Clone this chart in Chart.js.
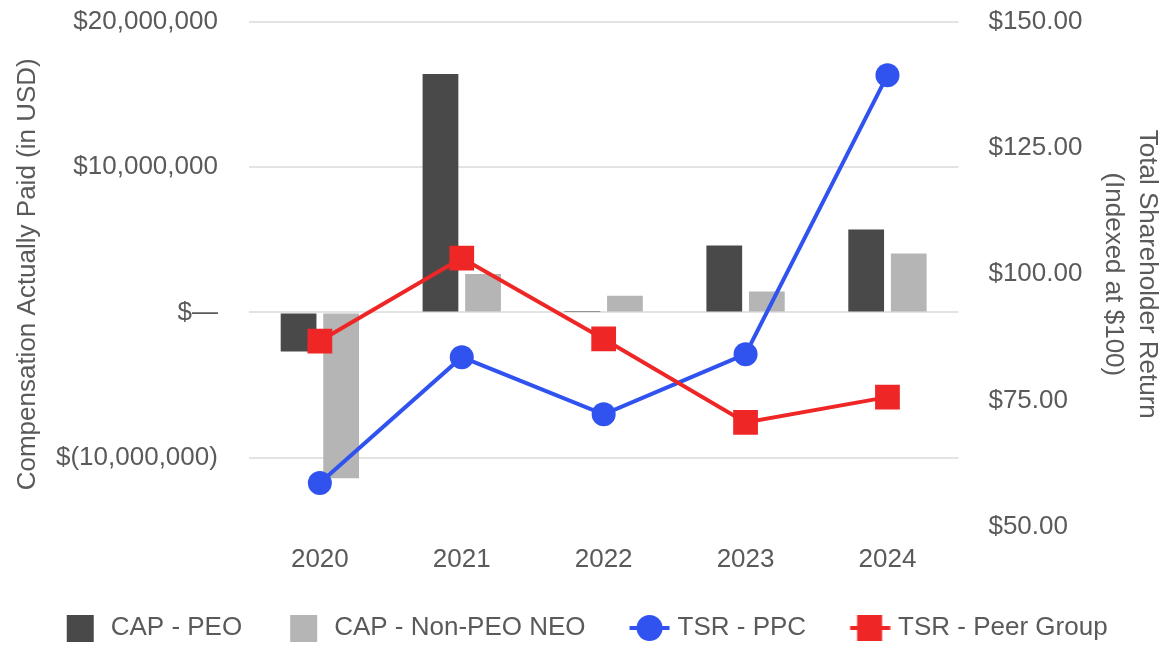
<!DOCTYPE html>
<html>
<head>
<meta charset="utf-8">
<script src="https://cdn.jsdelivr.net/npm/chart.js@4.4.1/dist/chart.umd.min.js"></script>
<style>
  html, body { margin: 0; padding: 0; background: #fff; }
  #wrap { width: 1165px; height: 648px; }
</style>
</head>
<body>
<div id="wrap"><canvas id="capChart"></canvas></div>
<script>
/* ---------- data ---------- */
var years = ['2020', '2021', '2022', '2023', '2024'];
var capPeo = [ -2680000, 16400000, 110000, 4600000, 5700000 ];
var capNonPeo = [ -11400000, 2650000, 1150000, 1450000, 4050000 ];
var tsrPpc = [ 58.7, 83.6, 72.3, 84.2, 139.4 ];
var tsrPeer = [ 86.8, 103.2, 87.2, 70.7, 75.7 ];
var capTicks = [ -10000000, 0, 10000000, 20000000 ];
var tsrTicks = [ 50, 75, 100, 125, 150 ];
var legendNames = [ 'CAP - PEO', 'CAP - Non-PEO NEO', 'TSR - PPC', 'TSR - Peer Group' ];

/* ---------- colours ---------- */
var darkGrey = '#494949';
var lightGrey = '#b5b5b5';
var blue = '#3053f0';
var red = '#ee2626';
var textGrey = '#5a5a5a';

Chart.defaults.font.family = '"Liberation Sans", Arial, sans-serif';
Chart.defaults.font.size = 26;
Chart.defaults.color = textGrey;

/* legend swatches (drawn as point style images, centred in a 57px box) */
function squareIcon(color) {
	var c = document.createElement('canvas');
	c.width = 57; c.height = 27;
	var g = c.getContext('2d');
	g.fillStyle = color;
	g.fillRect(26, 0, 27, 27);
	return c;
}
function lineIcon(color, shape) {
	var c = document.createElement('canvas');
	c.width = 68; c.height = 28;
	var g = c.getContext('2d');
	g.strokeStyle = color;
	g.lineWidth = 4;
	g.beginPath(); g.moveTo(27.5, 14); g.lineTo(67.5, 14); g.stroke();
	g.fillStyle = color;
	if (shape === 'circle') {
		g.beginPath(); g.arc(47.5, 14, 13, 0, Math.PI * 2); g.fill();
	} else {
		g.fillRect(34.5, 1, 25, 26);
	}
	return c;
}
var icons = [ squareIcon(darkGrey), squareIcon(lightGrey), lineIcon(blue, 'circle'), lineIcon(red, 'rect') ];

function moneyLabel(v) {
	if (v === 0) return '$\u2014';
	var s = Math.abs(v).toLocaleString('en-US');
	return v < 0 ? '$(' + s + ')' : '$' + s;
}

function fixedTicks(values) {
	return function (scale) {
		scale.ticks = values.map(function (v) { return { value: v }; });
	};
}

var ctx = document.getElementById('capChart').getContext('2d');

var capChart = new Chart(ctx, {
	type: 'bar',
	data: {
		labels: years,
		datasets: [{
			label: legendNames[0],
			data: capPeo,
			backgroundColor: darkGrey,
			yAxisID: 'y',
			order: 2,
			barPercentage: 0.84,
			categoryPercentage: 0.6
		}, {
			label: legendNames[1],
			data: capNonPeo,
			backgroundColor: lightGrey,
			yAxisID: 'y',
			order: 2,
			barPercentage: 0.84,
			categoryPercentage: 0.6
		}, {
			type: 'line',
			label: legendNames[2],
			data: tsrPpc,
			borderColor: blue,
			backgroundColor: blue,
			borderWidth: 4,
			pointStyle: 'circle',
			pointRadius: 12,
			pointHoverRadius: 12,
			pointBorderWidth: 0,
			yAxisID: 'y1',
			order: 1
		}, {
			type: 'line',
			label: legendNames[3],
			data: tsrPeer,
			borderColor: red,
			backgroundColor: red,
			borderWidth: 4,
			pointStyle: 'rect',
			pointRadius: 17.5,
			pointHoverRadius: 17.5,
			pointBorderWidth: 0,
			yAxisID: 'y1',
			order: 0
		}]
	},
	options: {
		responsive: true,
		maintainAspectRatio: false,
		animation: false,
		layout: {
			padding: { left: 6, right: 1, top: 0, bottom: -3 }
		},
		plugins: {
			tooltip: { enabled: false },
			legend: {
				position: 'bottom',
				labels: {
					usePointStyle: true,
					pointStyleWidth: 57,
					boxHeight: 26,
					padding: 22,
					color: textGrey,
					font: { size: 26 },
					generateLabels: function (chart) {
						return legendNames.map(function (name, i) {
							// trailing blanks on the last item nudge the centred row left
							return {
								text: i === legendNames.length - 1 ? name + '\u00a0\u00a0\u00a0' : name,
								pointStyle: icons[i],
								fillStyle: 'transparent',
								strokeStyle: 'transparent',
								lineWidth: 0,
								hidden: false,
								datasetIndex: i,
								fontColor: textGrey
							};
						});
					}
				}
			}
		},
		scales: {
			x: {
				grid: { display: false, drawTicks: false },
				border: { display: false },
				ticks: { padding: 17.4, color: textGrey }
			},
			y: {
				position: 'left',
				min: -14750000,
				max: 20000000,
				border: { display: false },
				grid: {
					color: '#e3e3e3',
					lineWidth: 2,
					drawTicks: true,
					tickLength: 25,
					tickColor: 'rgba(0,0,0,0)'
				},
				afterBuildTicks: fixedTicks(capTicks),
				ticks: {
					padding: 6,
					color: textGrey,
					callback: function (v) { return moneyLabel(v); }
				},
				title: {
					display: true,
					text: 'Compensation Actually Paid (in USD)',
					color: textGrey,
					font: { size: 26, lineHeight: 1.2 },
					padding: { top: 6.4, bottom: 6.4 }
				}
			},
			y1: {
				position: 'right',
				min: 50,
				max: 150,
				border: { display: false },
				grid: {
					drawOnChartArea: false,
					drawTicks: true,
					tickLength: 24,
					tickColor: 'rgba(0,0,0,0)'
				},
				afterBuildTicks: fixedTicks(tsrTicks),
				ticks: {
					padding: 6,
					color: textGrey,
					callback: function (v) { return '$' + v.toFixed(2); }
				},
				title: {
					display: true,
					text: [ 'Total Shareholder Return', '(Indexed at $100)' ],
					color: textGrey,
					font: { size: 26, lineHeight: 1.3 },
					padding: { top: 0, bottom: 8 }
				}
			}
		}
	}
});
</script>
</body>
</html>
